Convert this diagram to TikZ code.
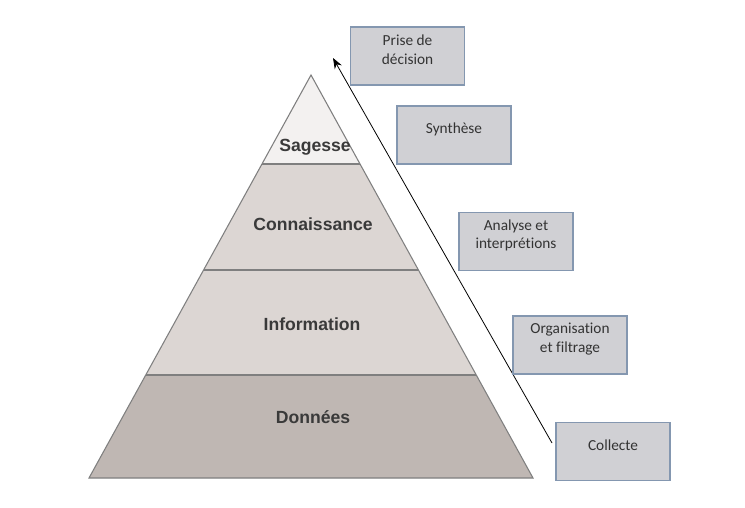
\documentclass[tikz,border=0pt]{standalone}
\usepackage{fontspec}
\setmainfont{Liberation Sans}
\newfontfamily\stagefont[Ligatures=NoCommon]{Carlito}
\usetikzlibrary{arrows.meta}
\definecolor{topgray}{HTML}{F3F1F0}
\definecolor{midgray}{HTML}{DCD6D3}
\definecolor{lowgray}{HTML}{BFB7B3}
\definecolor{edgegray}{HTML}{7F7F7F}
\definecolor{labelgray}{HTML}{3A3A3A}
\definecolor{boxfill}{HTML}{D0D0D4}
\definecolor{boxedge}{HTML}{8497B0}
\begin{document}
\begin{tikzpicture}[
		x=0.75pt, y=-0.75pt,
		layer/.style={draw=edgegray, line width=0.8pt},
		layerlabel/.style={font=\bfseries\fontsize{13.2}{15}\selectfont, text=labelgray},
		stagebox/.style={draw=boxedge, fill=boxfill, line width=0.8pt, minimum width=85.5pt, minimum height=43.5pt, inner sep=0pt},
		stagetext/.style={font=\stagefont\fontsize{11.5}{14}\selectfont, align=center, text=black!80, yshift=4.5pt},
		]
		\useasboundingbox (0,0) rectangle (745,507);
		% pyramid layers
		\fill[topgray] (311,75) -- (360,164) -- (262,164) -- cycle;
		\fill[midgray] (262,164) -- (360,164) -- (418,270) -- (204,270) -- cycle;
		\fill[midgray] (204,270) -- (418,270) -- (476,375) -- (146,375) -- cycle;
		\fill[lowgray] (146,375) -- (476,375) -- (533,478) -- (89,478) -- cycle;
		\draw[layer] (311,75) -- (533,478) -- (89,478) -- cycle;
		\draw[layer] (262,164) -- (360,164);
		\draw[layer] (204,270) -- (418,270);
		\draw[layer] (146,375) -- (476,375);
		\node[layerlabel] (sagesse) at (315,147) {Sagesse};
		\node[layerlabel] (connaissance) at (313,224) {Connaissance};
		\node[layerlabel] (information) at (312,324) {Information};
		\node[layerlabel] (donnees) at (313,417) {Données};
		% process arrow
		\coordinate (tail) at (552,443);
		\coordinate (head) at (333,58);
		\draw[-{Stealth[length=8pt,width=6pt]}, line width=0.6pt] (tail) -- (head);
		% stages
		\node[stagebox, label={[stagetext]center:{Prise de\\décision}}] (decision) at (407.5,56) {};
		\node[stagebox, label={[stagetext]center:Synthèse}] (synthese) at (454,135) {};
		\node[stagebox, label={[stagetext]center:{Analyse et\\interprét\kern0pt ions}}] (analyse) at (516,241.5) {};
		\node[stagebox, label={[stagetext]center:{Organisation\\et f\kern0pt iltrage}}] (organisation) at (570,345) {};
		\node[stagebox, label={[stagetext]center:Collecte}] (collecte) at (613,451.5) {};
\end{tikzpicture}
\end{document}
